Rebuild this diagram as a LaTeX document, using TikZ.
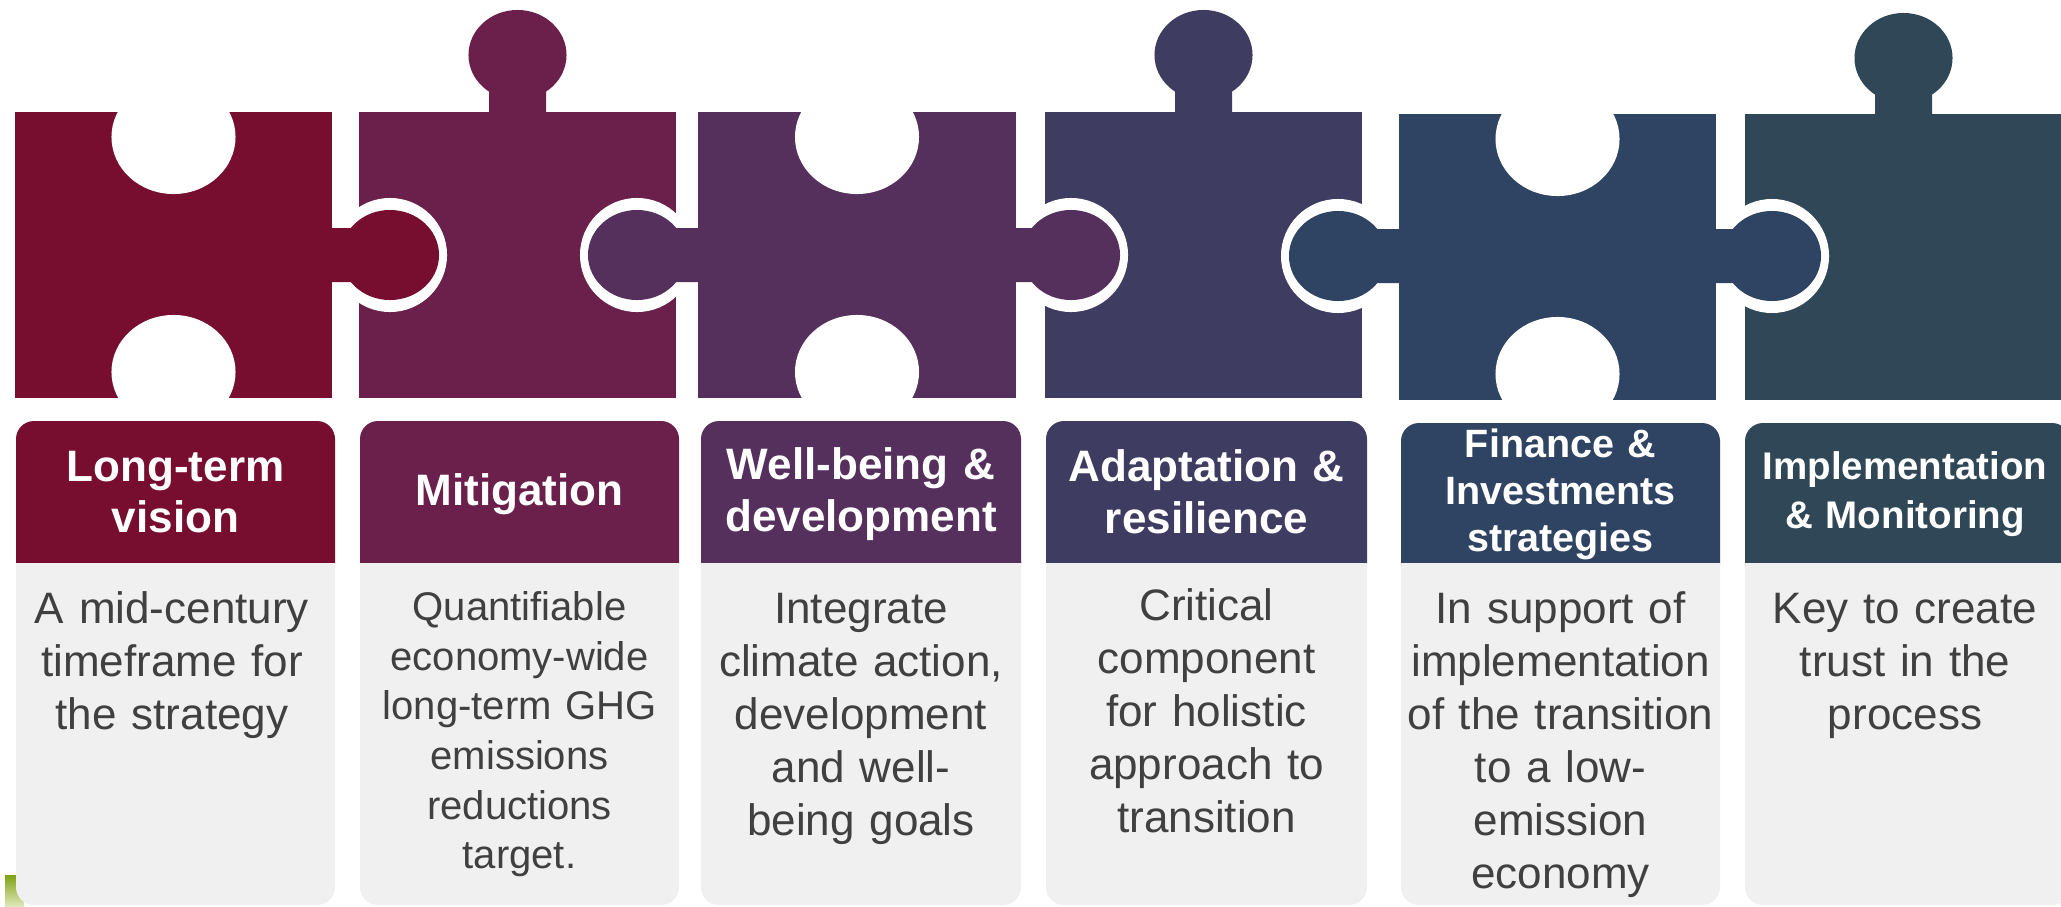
\documentclass[tikz,border=0pt]{standalone}
\usepackage{fontspec}
\setmainfont{Liberation Sans}
\definecolor{pc1}{HTML}{770E30}
\definecolor{pc2}{HTML}{6A204B}
\definecolor{pc3}{HTML}{55305D}
\definecolor{pc4}{HTML}{3F3C62}
\definecolor{pc5}{HTML}{2F4462}
\definecolor{pc6}{HTML}{2F4756}
\definecolor{bodyfill}{HTML}{F0F0F0}
\definecolor{bodytext}{HTML}{404040}
\definecolor{greenA}{HTML}{7FA012}
\definecolor{greenB}{HTML}{DDE8B8}
\begin{document}
\begin{tikzpicture}[x=0.01cm,y=-0.01cm,
  hdr/.style={text=white,font=\bfseries\fontsize{12.52pt}{14.7pt}\selectfont,align=center,text width=3.4cm,inner sep=0pt},
  bdy/.style={text=bodytext,font=\fontsize{12.52pt}{15.08pt}\selectfont,align=center,text width=3.4cm,inner sep=0pt,anchor=north},
  hole/.style={fill=white},
  knob/.style={x radius=0.49cm,y radius=0.45cm},
  ring/.style={x radius=0.57cm,y radius=0.57cm},
  notch/.style={x radius=0.62cm,y radius=0.57cm}
]
\useasboundingbox (0,0) rectangle (2061,906);
\fill[white] (0,0) rectangle (2061,906);

% ---------- puzzle pieces ----------
% piece 1
\begin{scope}
  \clip (15,112) rectangle (332,398);
  \fill[pc1] (15,112) rectangle (332,398);
  \fill[hole] (173.5,137) ellipse [notch];
  \fill[hole] (173.5,372) ellipse [notch];
\end{scope}
% piece 2
\begin{scope}
  \clip (359,112) rectangle (676,398);
  \fill[pc2] (359,112) rectangle (676,398);
  \fill[hole] (390,255) ellipse [ring];
  \fill[hole] (637,255) ellipse [ring];
\end{scope}
% piece 3
\begin{scope}
  \clip (698,112) rectangle (1016,398);
  \fill[pc3] (698,112) rectangle (1016,398);
  \fill[hole] (857,137) ellipse [notch];
  \fill[hole] (857,372) ellipse [notch];
\end{scope}
% piece 4
\begin{scope}
  \clip (1045,112) rectangle (1362,398);
  \fill[pc4] (1045,112) rectangle (1362,398);
  \fill[hole] (1071,255) ellipse [ring];
  \fill[hole] (1338,256) ellipse [ring];
\end{scope}
% piece 5
\begin{scope}
  \clip (1399,114) rectangle (1716,400);
  \fill[pc5] (1399,114) rectangle (1716,400);
  \fill[hole] (1557.5,139) ellipse [notch];
  \fill[hole] (1557.5,374) ellipse [notch];
\end{scope}
% piece 6
\begin{scope}
  \clip (1745,114) rectangle (2070,400);
  \fill[pc6] (1745,114) rectangle (2070,400);
  \fill[hole] (1772,256) ellipse [ring];
\end{scope}

% ---------- side knobs ----------
\fill[pc1] (325,228) rectangle (390,282) (390,255) ellipse [knob];
\fill[pc3] (637,228) rectangle (704,282) (637,255) ellipse [knob];
\fill[pc3] (1010,228) rectangle (1071,282) (1071,255) ellipse [knob];
\fill[pc5] (1338,229) rectangle (1405,283) (1338,256) ellipse [knob];
\fill[pc5] (1710,229) rectangle (1772,283) (1772,256) ellipse [knob];

% ---------- top knobs ----------
\fill[pc2] (489,80) rectangle (546,115) (517.5,55) ellipse [knob];
\fill[pc4] (1175,80) rectangle (1232,115) (1203.5,55) ellipse [knob];
\fill[pc6] (1875,83) rectangle (1932,117) (1903.5,58) ellipse [knob];

% ---------- green mark ----------
\shade[top color=greenA,bottom color=greenB] (5,875) rectangle (24,906);

% ---------- columns ----------
\foreach \l/\r/\t/\c in {16/335/421/pc1, 360/679/421/pc2, 701/1021/421/pc3, 1046/1367/421/pc4, 1401/1720/423/pc5, 1745/2070/423/pc6}{
  \begin{scope}
    \clip (\l,\t) rectangle (\r,563);
    \fill[\c,rounded corners=0.18cm] (\l,\t) rectangle (\r,620);
  \end{scope}
  \begin{scope}
    \clip (\l,563) rectangle (\r,906);
    \fill[bodyfill,rounded corners=0.18cm] (\l,520) rectangle (\r,905);
  \end{scope}
}

% ---------- header texts ----------
\node[hdr] (h1) at (175.5,492) {Long-term\\vision};
\node[hdr] (h2) at (519.5,494) {Mitigation};
\node[hdr] (h3) at (861,494) {Well-being \&\\development};
\node[hdr] (h4) at (1206.5,492) {Adaptation \&\\resilience};
\node[hdr,font=\bfseries\fontsize{11.24pt}{13.37pt}\selectfont] (h5) at (1560.5,494) {Finance \&\\Investments\\strategies};
\node[hdr,font=\bfseries\fontsize{10.95pt}{13.94pt}\selectfont] (h6) at (1905,494) {Implementation\\\& Monitoring};

% ---------- body texts ----------
\node[bdy] (b1) at (172,591) {A mid-century\\timeframe for\\the strategy};
\node[bdy,font=\fontsize{11.38pt}{14.11pt}\selectfont] (b2) at (519.5,591) {Quantifiable\\economy-wide\\long-term GHG\\emissions\\reductions\\target.};
\node[bdy] (b3) at (861,592) {Integrate\\climate action,\\development\\and well-\\being goals};
\node[bdy] (b4) at (1206.5,588) {Critical\\component\\for holistic\\approach to\\transition};
\node[bdy] (b5) at (1560.5,591) {In support of\\implementation\\of the transition\\to a low-\\emission\\economy};
\node[bdy] (b6) at (1905,592) {Key to create\\trust in the\\process};
\end{tikzpicture}
\end{document}
